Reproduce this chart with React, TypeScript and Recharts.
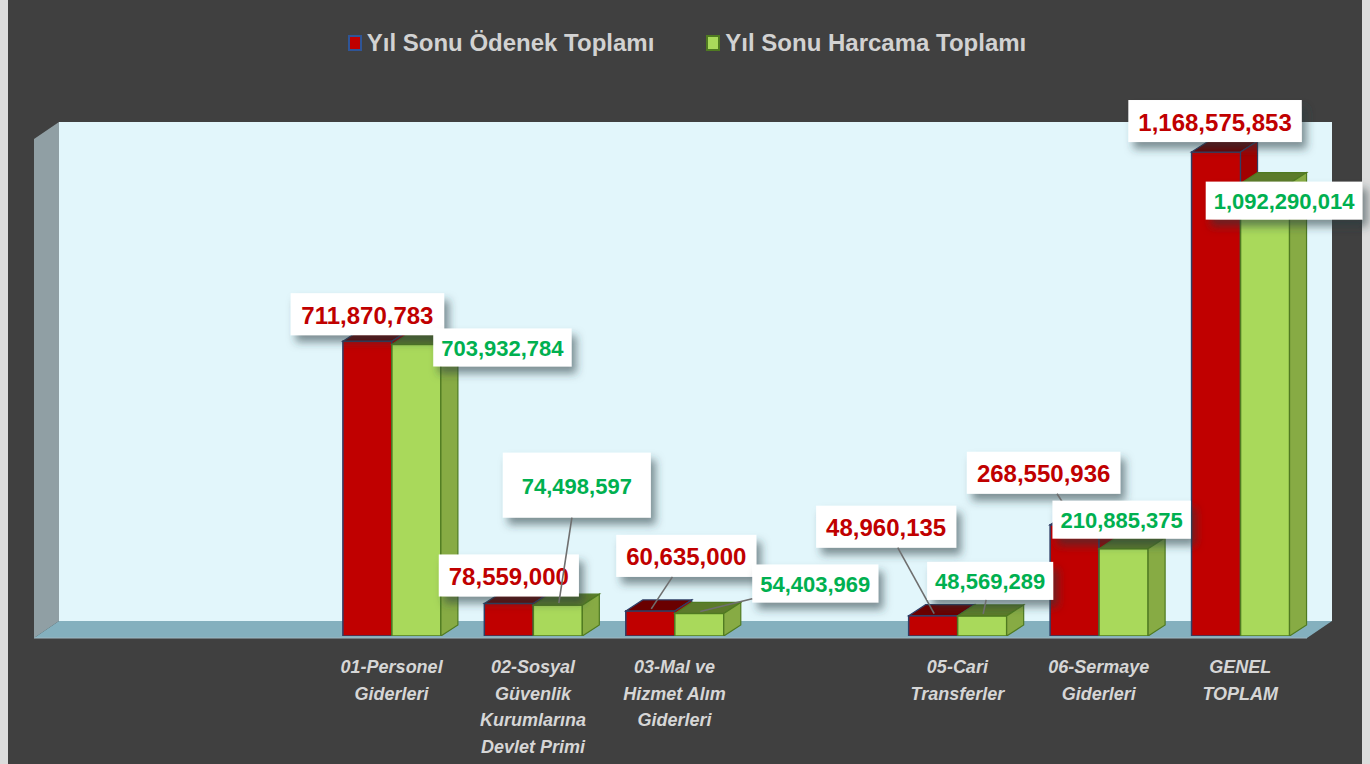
import React from 'react';
import { BarChart, Bar, XAxis, YAxis, LabelList } from 'recharts';

// slots 0,1 and 5 are empty in the original sheet
const CATEGORIES = [
  ' ',
  '  ',
  '01-Personel\nGiderleri',
  '02-Sosyal\nGüvenlik\nKurumlarına\nDevlet Primi',
  '03-Mal ve\nHizmet Alım\nGiderleri',
  '   ',
  '05-Cari\nTransferler',
  '06-Sermaye\nGiderleri',
  'GENEL\nTOPLAM',
];
const ODENEK = [null, null, 711870783, 78559000, 60635000, null, 48960135, 268550936, 1168575853];
const HARCAMA = [null, null, 703932784, 74498597, 54403969, null, 48569289, 210885375, 1092290014];

const SERIES_ODENEK = 'Yıl Sonu Ödenek Toplamı';
const SERIES_HARCAMA = 'Yıl Sonu Harcama Toplamı';

// label box placement (offset of box centre from the bar's top centre), leader line flag
const ODENEK_LABEL_POS: ([number, number, boolean] | null)[] = [
  null, null, [0, -27, false], [0, -28, false], [36, -55, true], null, [-47, -89, true], [-31, -52, true], [-1, -31, false],
];
const HARCAMA_LABEL_POS: ([number, number, boolean] | null)[] = [
  null, null, [86, 3, false], [19, -120, true], [116, -30, true], null, [8, -35, true], [-2, -29, false], [19, 17, false],
];
// the 74,498,597 box was resized by hand in the original
const HARCAMA_BOX_SIZE: ([number, number] | null)[] = [null, null, null, [148, 65], null, null, null, null, null];

const data = CATEGORIES.map((name, i) => ({ name, odenek: ODENEK[i], harcama: HARCAMA[i] }));

const W = 1370;
const H = 764;
const AXIS_H = 128;
const M = { top: 139, right: 59, bottom: 0, left: 38 };
const PLOT_BOTTOM = H - AXIS_H;
const WALL_DX = 25;
const WALL_DY = -17;
const BAR_DX = 17;
const BAR_DY = -11;
const FONT = '"Liberation Sans", Arial, sans-serif';

const RED = { front: '#c00000', top: '#6a0000', side: '#a10000', stroke: '#2f3f66', text: '#c00000' };
const GREEN = { front: '#a9d95b', top: '#5c7b2b', side: '#87ab44', stroke: '#4f7a21', text: '#00b050' };

function Prism(props: any) {
  const { x, y, width, height, faces } = props;
  if (height == null || !(height > 0) || isNaN(y)) return null;
  const r = x + width;
  const b = y + height;
  return (
    <g>
      <rect x={x} y={y} width={width} height={height} fill={faces.front} stroke={faces.stroke} strokeWidth={1.5} />
      <polygon
        points={`${x},${y} ${x + BAR_DX},${y + BAR_DY} ${r + BAR_DX},${y + BAR_DY} ${r},${y}`}
        fill={faces.top}
        stroke={faces.stroke}
        strokeWidth={1.2}
      />
      <polygon
        points={`${r},${y} ${r + BAR_DX},${y + BAR_DY} ${r + BAR_DX},${b + BAR_DY} ${r},${b}`}
        fill={faces.side}
        stroke={faces.stroke}
        strokeWidth={1.2}
      />
    </g>
  );
}

function textWidth(s: string, fs: number) {
  let w = 0;
  for (const c of s) w += c === ',' ? 0.278 : 0.556;
  return w * fs;
}

function ValueLabel(props: any) {
  const { values, layout, sizes, faces, fontSize, padX, boxH } = props;
  const vb = props.viewBox || {};
  const x = props.x ?? vb.x;
  const y = props.y ?? vb.y;
  const width = props.width ?? vb.width;
  const value = props.value;
  if (value == null) return null;
  const idx = values.indexOf(value);
  const pos = layout[idx];
  if (!pos) return null;
  const text = Number(value).toLocaleString('en-US');
  const size = sizes ? sizes[idx] : null;
  const bw = size ? size[0] : textWidth(text, fontSize) + padX * 2;
  const bh = size ? size[1] : boxH;
  const tx = x + width / 2;
  const ty = y;
  const cx = tx + pos[0];
  const cy = ty + pos[1];
  let leader = null;
  if (pos[2]) {
    const ex = tx + 1;
    const ey = ty - 2;
    const dx = ex - cx;
    const dy = ey - cy;
    const t = Math.min(dx !== 0 ? bw / 2 / Math.abs(dx) : Infinity, dy !== 0 ? bh / 2 / Math.abs(dy) : Infinity);
    leader = <line x1={cx + dx * t} y1={cy + dy * t} x2={ex} y2={ey} stroke="#6f6f6f" strokeWidth={1.6} />;
  }
  return (
    <g>
      <rect x={cx - bw / 2} y={cy - bh / 2} width={bw} height={bh} fill="#ffffff" filter="url(#lblShadow)" />
      <text
        x={cx}
        y={cy + 1}
        textAnchor="middle"
        dominantBaseline="central"
        fontFamily={FONT}
        fontWeight={700}
        fontSize={fontSize}
        fill={faces.text}
      >
        {text}
      </text>
      {leader}
    </g>
  );
}

function CategoryTick(props: any) {
  const { x, y, payload } = props;
  const lines = String(payload.value).trim().split('\n');
  return (
    <g>
      {lines.map((l, i) => (
        <text
          key={i}
          x={x}
          y={y + 37 + i * 26.5}
          textAnchor="middle"
          fontFamily={FONT}
          fontStyle="italic"
          fontWeight={700}
          fontSize={18}
          fill="#d6d6d6"
        >
          {l}
        </text>
      ))}
    </g>
  );
}

function Frame() {
  const L = M.left - 4;
  const R = W - M.right - 4;
  const T = M.top;
  const B = PLOT_BOTTOM + 2;
  return (
    <svg width={W} height={H} style={{ position: 'absolute', left: 0, top: 0 }}>
      <defs>
        <filter id="lblShadow" x="-30%" y="-40%" width="160%" height="200%">
          <feDropShadow dx="5" dy="7" stdDeviation="4" floodColor="#2a3a40" floodOpacity="0.55" />
        </filter>
      </defs>
      {/* back wall */}
      <rect x={L + WALL_DX} y={T + WALL_DY} width={R - L} height={B - T} fill="#e2f6fb" />
      {/* side wall */}
      <polygon
        points={`${L},${T} ${L + WALL_DX},${T + WALL_DY} ${L + WALL_DX},${B + WALL_DY} ${L},${B}`}
        fill="#909fa4"
      />
      {/* floor */}
      <polygon
        points={`${L},${B} ${L + WALL_DX},${B + WALL_DY} ${R + WALL_DX},${B + WALL_DY} ${R},${B}`}
        fill="#84b0be"
      />
      <line x1={L} y1={B} x2={R} y2={B} stroke="#9fb8c2" strokeWidth={1} />
    </svg>
  );
}

function LegendRow() {
  const item = (label: string, faces: typeof RED, border: string) => (
    <div style={{ display: 'flex', alignItems: 'center' }}>
      <span
        style={{
          display: 'inline-block',
          width: 10,
          height: 12,
          background: faces.front,
          border: `2px solid ${border}`,
          marginRight: 5,
        }}
      />
      <span>{label}</span>
    </div>
  );
  return (
    <div
      style={{
        position: 'absolute',
        left: 0,
        top: 29,
        width: W,
        display: 'flex',
        justifyContent: 'center',
        gap: 52,
        fontFamily: FONT,
        fontWeight: 700,
        fontSize: 24,
        color: '#d2d2d2',
        lineHeight: '28px',
        paddingLeft: 4,
        boxSizing: 'border-box',
      }}
    >
      {item(SERIES_ODENEK, RED, '#2f5597')}
      {item(SERIES_HARCAMA, GREEN, '#4f7a21')}
    </div>
  );
}

export default function App() {
  return (
    <div style={{ position: 'absolute', left: 0, top: 0, width: W, height: H, background: '#dcdcdc', overflow: 'hidden' }}>
      <div style={{ position: 'absolute', left: 8, top: 0, width: 1354, height: H, background: '#404040' }} />
      <Frame />
      <LegendRow />
      <div style={{ position: 'absolute', left: 0, top: 0 }}>
        <BarChart width={W} height={H} data={data} margin={M} barGap={0} barSize={49}>
          <XAxis
            dataKey="name"
            axisLine={false}
            tickLine={false}
            tickSize={0}
            tickMargin={0}
            interval={0}
            tick={<CategoryTick />}
            height={AXIS_H}
          />
          <YAxis hide domain={[0, 1200000000]} allowDataOverflow />
          <Bar
            dataKey="odenek"
            name={SERIES_ODENEK}
            isAnimationActive={false}
            shape={(p: any) => <Prism {...p} faces={RED} />}
          >
            <LabelList
              dataKey="odenek"
              content={(p: any) => (
                <ValueLabel {...p} values={ODENEK} layout={ODENEK_LABEL_POS} faces={RED} fontSize={24} padX={10} boxH={42} />
              )}
            />
          </Bar>
          <Bar
            dataKey="harcama"
            name={SERIES_HARCAMA}
            isAnimationActive={false}
            shape={(p: any) => <Prism {...p} faces={GREEN} />}
          >
            <LabelList
              dataKey="harcama"
              content={(p: any) => (
                <ValueLabel
                  {...p}
                  values={HARCAMA}
                  layout={HARCAMA_LABEL_POS}
                  sizes={HARCAMA_BOX_SIZE}
                  faces={GREEN}
                  fontSize={22}
                  padX={8}
                  boxH={38}
                />
              )}
            />
          </Bar>
        </BarChart>
      </div>
    </div>
  );
}
